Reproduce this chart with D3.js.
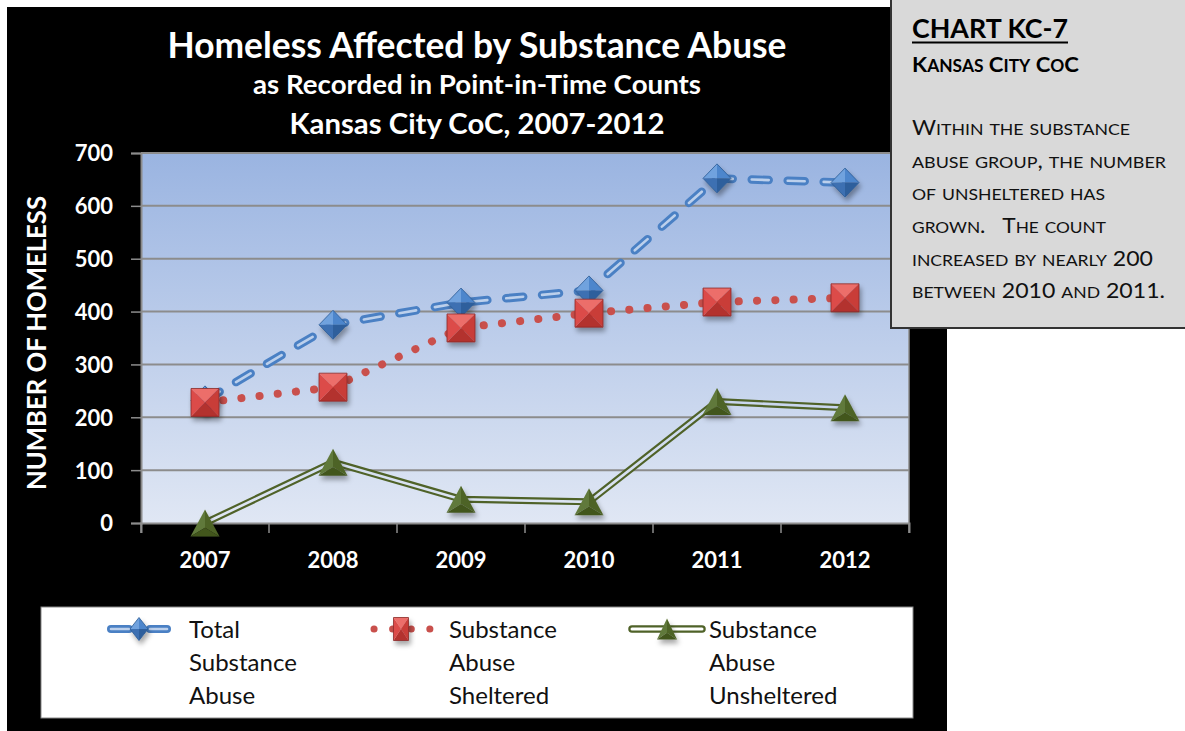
<!DOCTYPE html>
<html><head><meta charset="utf-8">
<script src="https://cdn.jsdelivr.net/npm/d3@7"></script>
<style>
html,body{margin:0;padding:0;background:#fff;}
svg{display:block;font-family:Lato, "Open Sans", sans-serif;}
</style></head>
<body>
<svg id="chart" width="1185" height="731"></svg>
<script>
// ---- data ----
const years = ["2007","2008","2009","2010","2011","2012"];
const totalAbuse = [232, 375, 417, 440, 652, 644];
const shelteredAbuse = [228, 257, 369, 397, 418, 426];
const unshelteredAbuse = [0, 115, 45, 40, 230, 218];
const yTicks = [0,100,200,300,400,500,600,700];
const titleLines = ["Homeless Affected by Substance Abuse","as Recorded in Point-in-Time Counts","Kansas City CoC, 2007-2012"];
const legendLabels = [["Total","Substance","Abuse"],["Substance","Abuse","Sheltered"],["Substance","Abuse","Unsheltered"]];
const noteHead = "CHART KC-7";
const noteSub = "Kansas City CoC";
const noteLines = ["Within the substance","abuse group, the number","of unsheltered has","grown.\u00a0\u00a0 The count","increased by nearly 200","between 2010 and 2011."];

const svg = d3.select("#chart");
const W = 1185, H = 731;
const plot = {l:141, r:909, t:153, b:523};

const x = d3.scaleBand().domain(years).range([plot.l, plot.r]).padding(0);
const y = d3.scaleLinear().domain([0,700]).range([plot.b, plot.t]);
const cx = d => x(d) + x.bandwidth()/2;

const defs = svg.append("defs");
const g1 = defs.append("linearGradient").attr("id","plotGrad")
  .attr("gradientUnits","userSpaceOnUse").attr("x1",0).attr("y1",plot.t).attr("x2",0).attr("y2",plot.b);
g1.append("stop").attr("offset","0").attr("stop-color","#9ab4e1");
g1.append("stop").attr("offset","1").attr("stop-color","#e0e7f4");
const f = defs.append("filter").attr("id","shadow").attr("x","-50%").attr("y","-50%").attr("width","200%").attr("height","200%");
f.append("feDropShadow").attr("dx",2).attr("dy",4).attr("stdDeviation",2.5).attr("flood-color","#000").attr("flood-opacity",0.35);

// black chart background
svg.append("rect").attr("x",7).attr("y",7).attr("width",940).attr("height",H-7).attr("fill","#000");

// plot area
svg.append("rect").attr("x",plot.l).attr("y",plot.t).attr("width",plot.r-plot.l).attr("height",plot.b-plot.t).attr("fill","url(#plotGrad)");

// gridlines
svg.append("g").selectAll("line").data(yTicks.filter(v=>v>0)).join("line")
  .attr("x1",plot.l).attr("x2",plot.r).attr("y1",d=>y(d)).attr("y2",d=>y(d))
  .attr("stroke","#8c8c8c").attr("stroke-width",2);
svg.append("line").attr("x1",plot.r).attr("x2",plot.r).attr("y1",plot.t).attr("y2",plot.b).attr("stroke","#8c8c8c").attr("stroke-width",1.5);

// axes
const yAxis = svg.append("g").attr("transform",`translate(${plot.l},0)`)
  .call(d3.axisLeft(y).tickValues(yTicks).tickSize(10).tickPadding(18));
const xAxis = svg.append("g").attr("transform",`translate(0,${plot.b})`)
  .call(d3.axisBottom(x).tickSize(10).tickPadding(16));
[yAxis,xAxis].forEach(a=>{
  a.select(".domain").attr("stroke","#8c8c8c").attr("stroke-width",2);
  a.selectAll(".tick line").attr("stroke","#8c8c8c").attr("stroke-width",1.5);
  a.selectAll("text").attr("fill","#fff").attr("font-family","Lato").attr("font-weight","bold").attr("font-size",22);
});
yAxis.selectAll(".tick text").attr("dy","0.36em");
xAxis.selectAll(".tick text").attr("dy","0.87em");
// x ticks at category boundaries
xAxis.selectAll(".tick line").attr("transform",`translate(${-x.bandwidth()/2},0)`);
xAxis.append("line").attr("x1",plot.r).attr("x2",plot.r).attr("y1",0).attr("y2",10).attr("stroke","#8c8c8c").attr("stroke-width",1.5);

// axis title
svg.append("text").attr("transform","translate(46,343) rotate(-90)").attr("text-anchor","middle")
  .attr("fill","#fff").attr("font-weight","bold").attr("font-size",26)
  .attr("textLength",294).attr("lengthAdjust","spacingAndGlyphs").text("NUMBER OF HOMELESS");

// titles
const tSpecs = [{size:36,base:58,w:619},{size:27,base:94,w:448},{size:29,base:134,w:375}];
titleLines.forEach((t,i)=>{
  svg.append("text").attr("x",477).attr("y",tSpecs[i].base).attr("text-anchor","middle")
    .attr("fill","#fff").attr("font-weight","bold").attr("font-size",tSpecs[i].size)
    .attr("textLength",tSpecs[i].w).attr("lengthAdjust","spacingAndGlyphs").text(t);
});

// marker helpers
function diamond(sel, px, py, hw, hh){
  const g = sel.append("g").attr("filter","url(#shadow)");
  const T=[px,py-hh],R=[px+hw,py],B=[px,py+hh],L=[px-hw,py],C=[px,py];
  [[T,C,L,"#6fa2de"],[T,R,C,"#4d86cc"],[C,R,B,"#2f5f9c"],[L,C,B,"#3c70b2"]].forEach(p=>{
    g.append("polygon").attr("points",[p[0],p[1],p[2]].map(q=>q.join(",")).join(" ")).attr("fill",p[3]);
  });
  g.append("polygon").attr("points",[T,R,B,L].map(q=>q.join(",")).join(" ")).attr("fill","none").attr("stroke","#2b5a94").attr("stroke-width",0.8);
}
function square(sel, px, py, hw, hh){
  const g = sel.append("g").attr("filter","url(#shadow)");
  const TL=[px-hw,py-hh],TR=[px+hw,py-hh],BR=[px+hw,py+hh],BL=[px-hw,py+hh],C=[px,py];
  [[TL,TR,C,"#ec6e6a"],[TR,BR,C,"#c93d39"],[BR,BL,C,"#b3302d"],[BL,TL,C,"#dc4c48"]].forEach(p=>{
    g.append("polygon").attr("points",[p[0],p[1],p[2]].map(q=>q.join(",")).join(" ")).attr("fill",p[3]);
  });
  g.append("polygon").attr("points",[TL,TR,BR,BL].map(q=>q.join(",")).join(" ")).attr("fill","none").attr("stroke","#8c2b28").attr("stroke-width",0.8);
}
function triangle(sel, px, py, hw, hh){
  const g = sel.append("g").attr("filter","url(#shadow)");
  const A=[px,py-hh],BL=[px-hw,py+hh],BR=[px+hw,py+hh],C=[px,py+hh*0.35];
  [[A,BL,C,"#61793a"],[A,C,BR,"#4e6426"],[BL,BR,C,"#43561f"]].forEach(p=>{
    g.append("polygon").attr("points",[p[0],p[1],p[2]].map(q=>q.join(",")).join(" ")).attr("fill",p[3]);
  });
}

const line = d3.line().x((d,i)=>cx(years[i])).y(d=>y(d));
const series = svg.append("g");

// unsheltered: double green line
series.append("path").attr("d",line(unshelteredAbuse)).attr("fill","none").attr("stroke","#4f6228").attr("stroke-width",7).attr("stroke-linejoin","round");
series.append("path").attr("d",line(unshelteredAbuse)).attr("fill","none").attr("stroke","url(#plotGrad)").attr("stroke-width",2.6).attr("stroke-linejoin","round");
// sheltered: round dots
series.append("path").attr("d",line(shelteredAbuse)).attr("fill","none").attr("stroke","#c9504c").attr("stroke-width",8).attr("stroke-linecap","round").attr("stroke-dasharray","0.1 18.2");
// total: compound dashes
series.append("path").attr("d",line(totalAbuse)).attr("fill","none").attr("stroke","#4a80c4").attr("stroke-width",8.5).attr("stroke-linecap","round").attr("stroke-dasharray","17 19");
series.append("path").attr("d",line(totalAbuse)).attr("fill","none").attr("stroke","#bcd0ec").attr("stroke-width",2.6).attr("stroke-linecap","round").attr("stroke-dasharray","17 19");

const mk = svg.append("g");
totalAbuse.forEach((v,i)=>diamond(mk, cx(years[i]), y(v), 14, 14.5));
shelteredAbuse.forEach((v,i)=>square(mk, cx(years[i]), y(v), 14, 14));
unshelteredAbuse.forEach((v,i)=>triangle(mk, cx(years[i]), y(v), 14.5, 13.5));

// legend
svg.append("rect").attr("x",41).attr("y",607).attr("width",872).attr("height",111).attr("fill","#fff").attr("stroke","#888").attr("stroke-width",1);
const lg = svg.append("g");
const ly = 629;
[[111,129],[150,167]].forEach(s=>{
  lg.append("line").attr("x1",s[0]).attr("x2",s[1]).attr("y1",ly).attr("y2",ly).attr("stroke","#4a80c4").attr("stroke-width",8).attr("stroke-linecap","round");
  lg.append("line").attr("x1",s[0]).attr("x2",s[1]).attr("y1",ly).attr("y2",ly).attr("stroke","#bcd0ec").attr("stroke-width",2.6).attr("stroke-linecap","round");
});
diamond(lg, 139, ly, 9, 11.5);
lg.append("line").attr("x1",374).attr("x2",430).attr("y1",ly).attr("y2",ly).attr("stroke","#c9504c").attr("stroke-width",7).attr("stroke-linecap","round").attr("stroke-dasharray","0.1 18.5");
square(lg, 401, ly, 7.5, 11.5);
lg.append("line").attr("x1",632).attr("x2",702).attr("y1",ly).attr("y2",ly).attr("stroke","#4f6228").attr("stroke-width",7.5).attr("stroke-linecap","round");
lg.append("line").attr("x1",632).attr("x2",702).attr("y1",ly).attr("y2",ly).attr("stroke","#fff").attr("stroke-width",3).attr("stroke-linecap","round");
triangle(lg, 667, ly, 10, 10.5);
const lx = [189, 449, 709];
legendLabels.forEach((lines,k)=>{
  lines.forEach((t,j)=>{
    lg.append("text").attr("x",lx[k]).attr("y",638+j*33).attr("fill","#111").attr("font-size",24).text(t);
  });
});

// small caps helper: lowercase letters rendered as smaller capitals
function smallCaps(textSel, str, big, small){
  const runs = [];
  for (const ch of str){
    const isLower = ch !== ch.toUpperCase();
    const sz = isLower ? small : big;
    const c = isLower ? ch.toUpperCase() : ch;
    if (runs.length && runs[runs.length-1].sz === sz) runs[runs.length-1].t += c;
    else runs.push({sz, t:c});
  }
  runs.forEach(r=>textSel.append("tspan").attr("font-size",r.sz).text(r.t));
}

// note box
svg.append("rect").attr("x",891).attr("y",-3).attr("width",300).attr("height",331).attr("fill","#d9d9d9").attr("stroke","#333").attr("stroke-width",2);
svg.append("text").attr("x",912).attr("y",38).attr("font-weight","bold").attr("font-size",27).attr("fill","#000")
  .attr("textLength",156).attr("lengthAdjust","spacingAndGlyphs").text(noteHead);
svg.append("line").attr("x1",912).attr("x2",1068).attr("y1",42.5).attr("y2",42.5).attr("stroke","#000").attr("stroke-width",2);
const sub = svg.append("text").attr("x",912).attr("y",72).attr("font-weight","bold").attr("fill","#000")
  .attr("textLength",167).attr("lengthAdjust","spacingAndGlyphs");
smallCaps(sub, noteSub, 21, 16.5);
const nW = [218,254,193,194,241,253];
const nB = [135,168,200,233,266,298];
noteLines.forEach((t,i)=>{
  const tx = svg.append("text").attr("x",912).attr("y",nB[i]).attr("fill","#111")
    .attr("textLength",nW[i]).attr("lengthAdjust","spacingAndGlyphs");
  smallCaps(tx, t, 21, 16);
});
</script>
</body></html>
